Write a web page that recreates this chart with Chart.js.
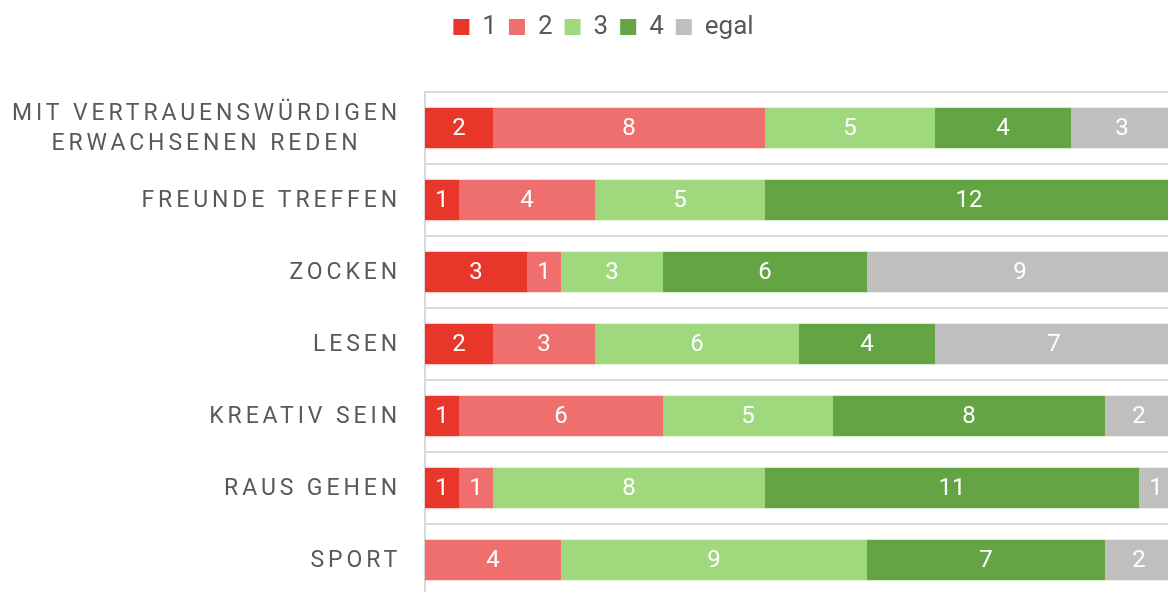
<!DOCTYPE html>
<html lang="de">
<head>
    <meta charset="UTF-8">
    <title>Freizeit</title>
    <script src="https://cdn.jsdelivr.net/npm/chart.js"></script>
    <style>
        html, body { margin: 0; padding: 0; background: #fff; overflow: hidden; }
    </style>
</head>
<body>
    <!-- a bit wider than the window: the right end of the bars is cut off like in the original -->
    <canvas id="chart" width="1173" height="600"></canvas>

    <script>
        // Kategorien (von oben nach unten)
        const categories = [
            ['MIT VERTRAUENSWÜRDIGEN', 'ERWACHSENEN REDEN'],
            'FREUNDE TREFFEN',
            'ZOCKEN',
            'LESEN',
            'KREATIV SEIN',
            'RAUS GEHEN',
            'SPORT'
        ];
        const seriesNames = ['1', '2', '3', '4', 'egal'];
        const values1    = [2, 1, 3, 2, 1, 1, 0];
        const values2    = [8, 4, 1, 3, 6, 1, 4];
        const values3    = [5, 5, 3, 6, 5, 8, 9];
        const values4    = [4, 12, 6, 4, 8, 11, 7];
        const valuesEgal = [3, 0, 9, 7, 2, 1, 2];
        const seriesColors = ['#E8362A', '#EE6F6D', '#A0D87E', '#64A443', '#BFBFBF'];

        const allValues = [values1, values2, values3, values4, valuesEgal];

        // legend takes a fixed height so the plot starts where it should
        const legendHeight = {
            id: 'legendHeight',
            beforeInit(chart) {
                const fit = chart.legend.fit;
                chart.legend.fit = function () {
                    fit.bind(chart.legend)();
                    this.height = 90;
                };
            }
        };

        // numbers inside the bars + category labels with letter spacing
        const textPlugin = {
            id: 'texts',
            afterDatasetsDraw(chart) {
                const ctx = chart.ctx;
                ctx.save();
                ctx.font = '24px Roboto';
                ctx.fillStyle = '#ffffff';
                ctx.textAlign = 'center';
                ctx.textBaseline = 'middle';
                chart.data.datasets.forEach((ds, i) => {
                    chart.getDatasetMeta(i).data.forEach((bar, j) => {
                        const v = ds.data[j];
                        if (!v) return;
                        const p = bar.getCenterPoint();
                        ctx.fillText(v, p.x, p.y + 1);
                    });
                });

                const yScale = chart.scales.y;
                ctx.font = '23px Roboto';
                ctx.fillStyle = '#595959';
                ctx.letterSpacing = '3.9px';
                categories.forEach((c, j) => {
                    const lines = [].concat(c);
                    const yc = yScale.getPixelForValue(j) + 1;
                    const w = Math.max(...lines.map(l => ctx.measureText(l).width));
                    const cx = chart.chartArea.left - 24 - w / 2;
                    lines.forEach((l, k) => {
                        ctx.fillText(l, cx, yc + (k - (lines.length - 1) / 2) * 30);
                    });
                });
                ctx.restore();
            }
        };

        new Chart(document.getElementById('chart'), {
            type: 'bar',
            data: {
                labels: categories,
                datasets: seriesNames.map((name, i) => ({
                    label: name,
                    data: allValues[i],
                    backgroundColor: seriesColors[i],
                    borderWidth: 0,
                    categoryPercentage: 1,
                    barPercentage: 0.56
                }))
            },
            options: {
                indexAxis: 'y',
                responsive: false,
                animation: false,
                layout: { padding: { left: 34, right: 0, top: 2, bottom: 4 } },
                plugins: {
                    legend: {
                        position: 'top',
                        labels: {
                            color: '#595959',
                            font: { family: 'Roboto', size: 26 },
                            boxWidth: 16,
                            boxHeight: 16,
                            padding: 12
                        }
                    },
                    tooltip: { enabled: false }
                },
                scales: {
                    x: {
                        display: false,
                        stacked: true,
                        min: 0,
                        max: 22
                    },
                    y: {
                        stacked: true,
                        afterFit(scale) { scale.width = 391; },
                        ticks: { display: false },
                        grid: {
                            offset: true,
                            color: '#D9D9D9',
                            lineWidth: 2,
                            drawTicks: false
                        },
                        border: { display: true, color: '#D9D9D9', width: 2 }
                    }
                }
            },
            plugins: [legendHeight, textPlugin]
        });
    </script>
</body>
</html>
